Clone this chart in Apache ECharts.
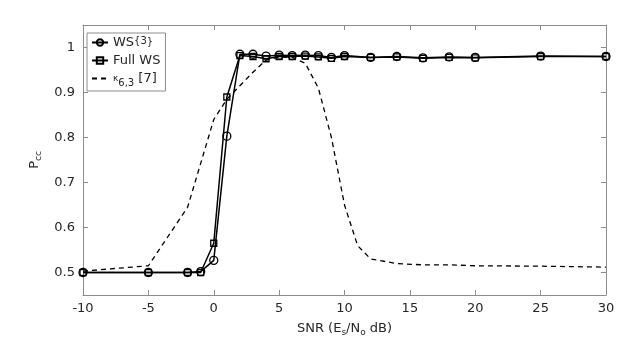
<!DOCTYPE html>
<html>
<head>
<meta charset="utf-8">
<script src="https://cdn.jsdelivr.net/npm/echarts@6/dist/echarts.min.js"></script>
<style>html,body{margin:0;padding:0;background:#fff}#c{width:638px;height:344px}</style>
</head>
<body>
<div id="c"></div>
<script>
// ---- data ----
var snrWS = [-10, -5, -2, -1, 0, 1, 2, 3, 4, 5, 6, 7, 8, 9, 10, 12, 14, 16, 18, 20, 25, 30];
var pccWS = [0.5, 0.5, 0.5, 0.502, 0.527, 0.803, 0.985, 0.985, 0.981, 0.983, 0.982, 0.983, 0.982, 0.978, 0.982, 0.978, 0.98, 0.977, 0.979, 0.978, 0.981, 0.98];
var snrFull = [-10, -5, -2, -1, 0, 1, 2, 3, 4, 5, 6, 7, 8, 9, 10, 12, 14, 16, 18, 20, 25, 30];
var pccFull = [0.5, 0.5, 0.5, 0.5, 0.565, 0.89, 0.982, 0.98, 0.975, 0.98, 0.98, 0.981, 0.979, 0.976, 0.98, 0.978, 0.979, 0.976, 0.978, 0.977, 0.98, 0.98];
var snrKappa = [-10, -5, -2, 0, 1, 2, 3, 4, 5, 6, 7, 8, 9, 10, 11, 12, 14, 16, 18, 20, 25, 30];
var pccKappa = [0.503, 0.515, 0.645, 0.84, 0.885, 0.915, 0.945, 0.972, 0.979, 0.978, 0.965, 0.91, 0.8, 0.65, 0.56, 0.53, 0.52, 0.517, 0.517, 0.515, 0.514, 0.512];
var xTicks = [-10, -5, 0, 5, 10, 15, 20, 25, 30];
var yTicks = [0.5, 0.6, 0.7, 0.8, 0.9, 1];
var seriesNames = ['WS', 'Full WS', 'kappa'];

function pairs(xs, ys) { return xs.map(function (x, i) { return [x, ys[i]]; }); }

var axisColor = '#8c8c8c';
var textColor = '#262626';
var font = 'DejaVu Sans';

var chart = echarts.init(document.getElementById('c'), null, {renderer: 'canvas'});
var option = {
  animation: false,
  backgroundColor: '#fff',
  textStyle: {fontFamily: font},
  grid: {left: 83, right: 32, top: 25, bottom: 49, containLabel: false},
  legend: {
    orient: 'vertical', left: 87, top: 33,
    backgroundColor: '#fff', borderColor: '#8c8c8c', borderWidth: 1, borderRadius: 0,
    padding: [3, 5, 3, 4], itemGap: 5, itemWidth: 16, itemHeight: 8,
    data: [
      {name: seriesNames[0]},
      {name: seriesNames[1]},
      {name: seriesNames[2], itemStyle: {color: 'rgba(0,0,0,0)', borderColor: 'rgba(0,0,0,0)', borderWidth: 0}}
    ],
    formatter: function (n) {
      if (n === 'WS') return '{n|WS}{sup|{3}}';
      if (n === 'Full WS') return '{n|Full WS}';
      return '{k|κ}{sub|6,3}{n| [7]}';
    },
    textStyle: {
      fontFamily: font, fontSize: 10, color: textColor, verticalAlign: 'top',
      rich: {
        n: {fontFamily: font, fontSize: 13, color: textColor, verticalAlign: 'middle'},
        sup: {fontFamily: font, fontSize: 10, color: textColor, verticalAlign: 'top'},
        k: {fontFamily: font, fontSize: 9, color: textColor, verticalAlign: 'middle'},
        sub: {fontFamily: font, fontSize: 10, color: textColor, verticalAlign: 'bottom', padding: [9, 0, 0, 0]}
      }
    }
  },
  xAxis: [{
    type: 'value', min: -10, max: 30, interval: 5, position: 'bottom',
    name: 'SNR (E{sub|s}/N{sub|o} dB)', nameLocation: 'middle', nameGap: 25,
    nameTextStyle: {fontFamily: font, fontSize: 13, color: textColor,
      rich: {sub: {fontFamily: font, fontSize: 9, color: textColor, verticalAlign: 'bottom', padding: [8, 0, 0, 0]}}},
    axisLine: {show: true, onZero: false, lineStyle: {color: axisColor, width: 1}},
    axisTick: {show: true, inside: true, length: 5, lineStyle: {color: axisColor}},
    axisLabel: {fontFamily: font, fontSize: 13, color: textColor, margin: 7, customValues: xTicks},
    splitLine: {show: false}
  }, {
    type: 'value', min: -10, max: 30, interval: 5, position: 'top',
    axisLine: {show: true, onZero: false, lineStyle: {color: axisColor, width: 1}},
    axisTick: {show: true, inside: true, length: 5, lineStyle: {color: axisColor}},
    axisLabel: {show: false},
    splitLine: {show: false}
  }],
  yAxis: [{
    type: 'value', min: 0.45, max: 1.05, position: 'left',
    name: 'P{sub|cc}', nameLocation: 'middle', nameGap: 35, nameRotate: 90,
    nameTextStyle: {fontFamily: font, fontSize: 13, color: textColor,
      rich: {sub: {fontFamily: font, fontSize: 9, color: textColor, verticalAlign: 'bottom', padding: [8, 0, 0, 0]}}},
    axisLine: {show: true, onZero: false, lineStyle: {color: axisColor, width: 1}},
    axisTick: {show: true, inside: true, length: 5, lineStyle: {color: axisColor}, customValues: yTicks},
    axisLabel: {fontFamily: font, fontSize: 13, color: textColor, margin: 8, customValues: yTicks},
    splitLine: {show: false}
  }, {
    type: 'value', min: 0.45, max: 1.05, position: 'right',
    axisLine: {show: true, onZero: false, lineStyle: {color: axisColor, width: 1}},
    axisTick: {show: true, inside: true, length: 5, lineStyle: {color: axisColor}, customValues: yTicks},
    axisLabel: {show: false},
    splitLine: {show: false}
  }],
  series: [{
    name: 'kappa', type: 'line', xAxisIndex: 0, yAxisIndex: 0,
    data: pairs(snrKappa, pccKappa), showSymbol: false, symbol: 'none',
    lineStyle: {color: '#000', width: 1.3, type: [5, 4]}, itemStyle: {color: '#000'}, z: 2
  }, {
    name: 'Full WS', type: 'line', xAxisIndex: 0, yAxisIndex: 0,
    data: pairs(snrFull, pccFull), symbol: 'rect', symbolSize: 6,
    lineStyle: {color: '#000', width: 1.5}, itemStyle: {color: 'rgba(255,255,255,0)', borderColor: '#000', borderWidth: 1.3}, z: 3
  }, {
    name: 'WS', type: 'line', xAxisIndex: 0, yAxisIndex: 0,
    data: pairs(snrWS, pccWS), symbol: 'circle', symbolSize: 8,
    lineStyle: {color: '#000', width: 1.5}, itemStyle: {color: 'rgba(255,255,255,0)', borderColor: '#000', borderWidth: 1.3}, z: 4
  }]
};
chart.setOption(option);
</script>
</body>
</html>
